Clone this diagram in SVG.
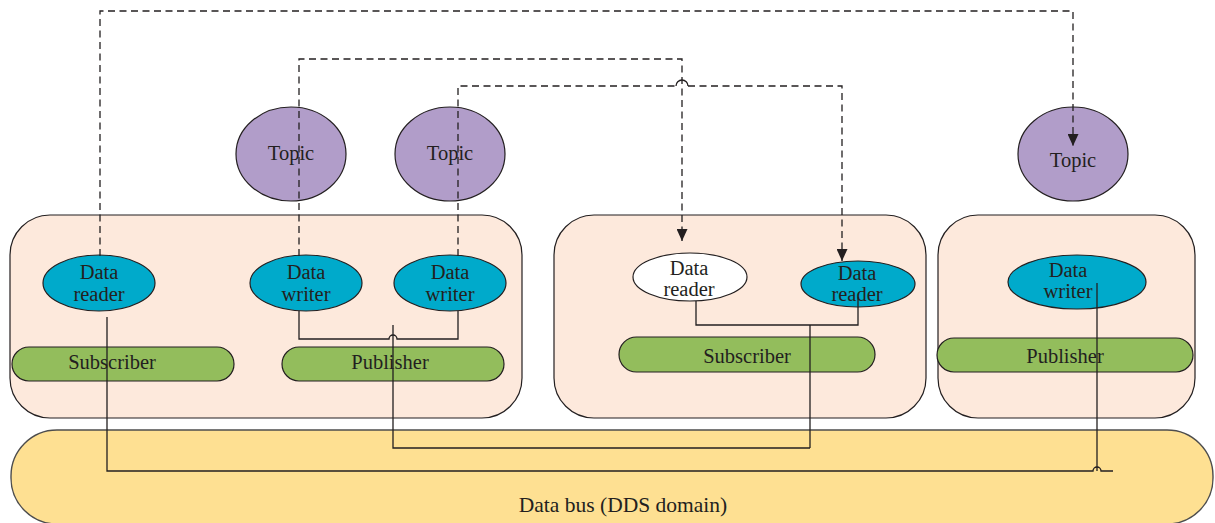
<svg xmlns="http://www.w3.org/2000/svg" width="1215" height="523" viewBox="0 0 1215 523">
  <style>
    .box { fill: #fde9dc; stroke: #231f20; stroke-width: 1.2; }
    .bus { fill: #fee092; stroke: #4d4d4d; stroke-width: 1.4; }
    .topic { fill: #b19dc9; stroke: #231f20; stroke-width: 1.2; }
    .ent { fill: #00aacb; stroke: #231f20; stroke-width: 1.2; }
    .entw { fill: #ffffff; stroke: #231f20; stroke-width: 1.2; }
    .pill { fill: #93bd5c; stroke: #231f20; stroke-width: 1.2; }
    text { font-family: "Liberation Serif", "Times New Roman", serif; font-size: 20.5px; fill: #231f20; text-anchor: middle; }
    text.bus-label { font-size: 21.5px; }
    .solid { fill: none; stroke: #231f20; stroke-width: 1.3; }
    .dash { fill: none; stroke: #231f20; stroke-width: 1.3; stroke-dasharray: 7 4.5; }
  </style>
  <defs>
    <marker id="arrow" viewBox="0 0 12 11" refX="12" refY="5.5" markerWidth="12" markerHeight="11" markerUnits="userSpaceOnUse" orient="auto">
      <path d="M0,0 L12,5.5 L0,11 Z" fill="#231f20"/>
    </marker>
  </defs>

  <!-- Data bus -->
  <g id="data-bus">
    <rect class="bus" x="11" y="430" width="1202" height="94" rx="46"/>
    <text class="bus-label" x="623" y="512">Data bus (DDS domain)</text>
  </g>

  <!-- Participant 1: subscriber + publisher -->
  <g id="participant-1">
    <rect class="box" x="10" y="215" width="512" height="203" rx="40"/>
  </g>
  <g id="subscriber-1">
    <rect class="pill" x="12" y="347" width="222" height="34" rx="17"/>
    <text x="112" y="369">Subscriber</text>
  </g>
  <g id="publisher-1">
    <rect class="pill" x="282" y="347" width="222" height="34" rx="17"/>
    <text x="390" y="369">Publisher</text>
  </g>
  <g id="reader-1">
    <ellipse class="ent" cx="99" cy="283" rx="56" ry="28"/>
    <text x="99" y="279">Data</text>
    <text x="99" y="301">reader</text>
  </g>
  <g id="writer-1">
    <ellipse class="ent" cx="306" cy="283" rx="56" ry="28"/>
    <text x="306" y="279">Data</text>
    <text x="306" y="301">writer</text>
  </g>
  <g id="writer-2">
    <ellipse class="ent" cx="450" cy="283" rx="56" ry="28"/>
    <text x="450" y="279">Data</text>
    <text x="450" y="301">writer</text>
  </g>

  <!-- Participant 2: subscriber -->
  <g id="participant-2">
    <rect class="box" x="554" y="215" width="372" height="203" rx="40"/>
  </g>
  <g id="subscriber-2">
    <rect class="pill" x="619" y="337" width="256" height="35" rx="17.5"/>
    <text x="747" y="363">Subscriber</text>
  </g>
  <g id="reader-2">
    <ellipse class="entw" cx="690" cy="277" rx="57" ry="24"/>
    <text x="689" y="275">Data</text>
    <text x="689" y="296">reader</text>
  </g>
  <g id="reader-3">
    <ellipse class="ent" cx="858" cy="284" rx="57" ry="23"/>
    <text x="857" y="280">Data</text>
    <text x="857" y="301">reader</text>
  </g>

  <!-- Participant 3: publisher -->
  <g id="participant-3">
    <rect class="box" x="938" y="215" width="257" height="203" rx="40"/>
  </g>
  <g id="publisher-3">
    <rect class="pill" x="937" y="338" width="256" height="34" rx="17"/>
    <text x="1065" y="363">Publisher</text>
  </g>
  <g id="writer-3">
    <ellipse class="ent" cx="1077" cy="282" rx="69" ry="27"/>
    <text x="1068" y="277">Data</text>
    <text x="1068" y="298">writer</text>
  </g>

  <!-- Topics -->
  <g id="topic-1">
    <ellipse class="topic" cx="291" cy="154" rx="55" ry="47"/>
    <text x="291" y="160">Topic</text>
  </g>
  <g id="topic-2">
    <ellipse class="topic" cx="450" cy="154" rx="55" ry="47"/>
    <text x="450" y="160">Topic</text>
  </g>
  <g id="topic-3">
    <ellipse class="topic" cx="1073" cy="154" rx="55" ry="47"/>
    <text x="1073" y="167">Topic</text>
  </g>

  <!-- Connectors -->
  <g id="connectors">
    <!-- topic associations (dashed) -->
    <path class="dash" d="M100,256 V11 H1073 V146" marker-end="url(#arrow)"/>
    <path class="dash" d="M299,256 V59 H682 V241" marker-end="url(#arrow)"/>
    <path class="dash" d="M458,256 V86 H676"/>
    <path class="solid" d="M676,86 A6,6 0 0 1 688,86"/>
    <path class="dash" d="M688,86 H842 V261" marker-end="url(#arrow)"/>

    <!-- publisher-1 writers to bus -->
    <path class="solid" d="M299,311 V339 H389 A4,4 0 0 1 397,339 H458 V311"/>
    <path class="solid" d="M393,325 V448 H810"/>

    <!-- subscriber-2 readers to bus -->
    <path class="solid" d="M696,301 V325 H858 V297"/>
    <path class="solid" d="M810,325 V448"/>

    <!-- reader-1 to bus, writer-3 to bus -->
    <path class="solid" d="M107,317 V471 H1093 A4,4 0 0 1 1101,471 H1113"/>
    <path class="solid" d="M1097,283 V471"/>
  </g>
</svg>
